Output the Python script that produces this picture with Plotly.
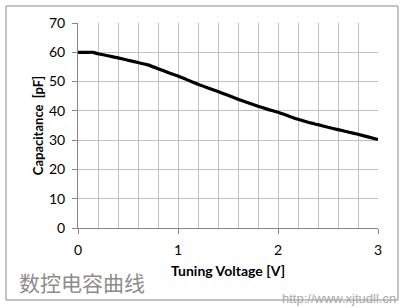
import plotly.graph_objects as go

voltage = [0.0, 0.1, 0.15, 0.2, 0.3, 0.4, 0.5, 0.6, 0.7, 0.8, 0.9, 1.0, 1.1, 1.2, 1.3,
           1.4, 1.5, 1.6, 1.7, 1.8, 1.9, 2.0, 2.1, 2.2, 2.3, 2.4, 2.5, 2.6, 2.7, 2.8, 2.9, 3.0]
capacitance = [60.0, 60.0, 60.0, 59.5, 58.8, 58.1, 57.3, 56.5, 55.7, 54.4, 53.1, 51.9, 50.5,
               49.1, 47.8, 46.6, 45.3, 44.0, 42.8, 41.6, 40.5, 39.5, 38.3, 37.1, 36.1, 35.3,
               34.4, 33.6, 32.8, 32.0, 31.1, 30.2]

x_title = "Tuning Voltage [V]"
y_title = "Capacitance  [pF]"
caption = "数控电容曲线"
watermark = "http://www.xjtudll.cn"

W, H = 410, 308
L, R, T, B = 78, 32, 23, 80
pw, ph = W - L - R, H - T - B

def px(x):
    return (x - L) / pw

def py(y):
    return (H - B - y) / ph

fig = go.Figure()
fig.add_trace(go.Scatter(x=voltage, y=capacitance, mode="lines",
                         line=dict(color="black", width=3.2, shape="spline", smoothing=0.4),
                         showlegend=False, hoverinfo="skip"))

grid = "#bfbfbf"
axisc = "#868686"
tickfont = dict(family="Lato, 'Open Sans', sans-serif", size=14, color="black")
xtitlefont = dict(family="Lato, 'Open Sans', sans-serif", size=14, color="black", weight="bold")
ytitlefont = dict(family="Lato, 'Open Sans', sans-serif", size=13, color="black", weight="bold")

fig.update_xaxes(range=[0, 3], dtick=1, tick0=0, showgrid=True, gridcolor=grid, gridwidth=1,
                 minor=dict(dtick=0.2, tick0=0, showgrid=True, gridcolor=grid, gridwidth=1, ticks=""),
                 showline=True, linecolor=axisc, linewidth=1, ticks="outside", ticklen=5,
                 tickcolor=axisc, tickfont=tickfont, zeroline=False, ticklabelstandoff=4,
                 title=dict(text="<b>" + x_title + "</b>", font=xtitlefont, standoff=9))
fig.update_yaxes(range=[0, 70], dtick=10, tick0=0, showgrid=True, gridcolor=grid, gridwidth=1,
                 showline=True, linecolor=axisc, linewidth=1, ticks="outside", ticklen=5,
                 tickcolor=axisc, tickfont=tickfont, zeroline=False, ticklabelstandoff=4,
                 title=dict(text="<b>" + y_title + "</b>", font=ytitlefont, standoff=2))

fig.add_shape(type="rect", xref="paper", yref="paper",
              x0=px(6), x1=px(398), y0=py(300), y1=py(6),
              line=dict(color="#8a8a8a", width=1), fillcolor="rgba(0,0,0,0)", layer="above")

fig.add_annotation(text=caption, xref="paper", yref="paper", x=px(17), y=py(282),
                   xanchor="left", yanchor="middle", showarrow=False,
                   font=dict(family="Noto Sans CJK SC", size=21, color="#8c8c8c"))
fig.add_annotation(text=watermark, xref="paper", yref="paper", x=px(398), y=py(298),
                   xanchor="right", yanchor="middle", showarrow=False,
                   font=dict(family="Liberation Sans, Arial, sans-serif", size=13, color="#a8a8a8"))

fig.update_layout(width=W, height=H, margin=dict(l=L, r=R, t=T, b=B),
                  paper_bgcolor="white", plot_bgcolor="white")

fig.write_html("out.html")
